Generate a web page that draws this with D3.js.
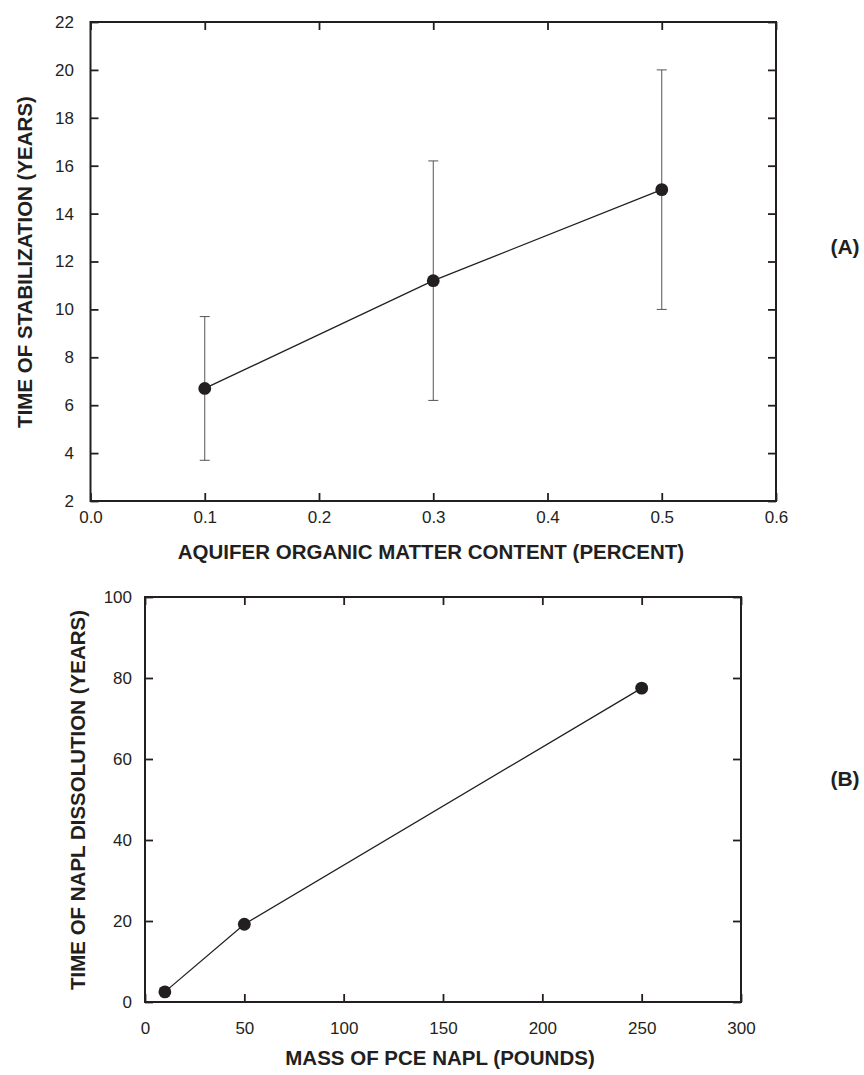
<!DOCTYPE html>
<html>
<head>
<meta charset="utf-8">
<script src="https://cdn.jsdelivr.net/npm/d3@7"></script>
<style>
  body { margin: 0; background: #fff; }
  text { font-family: "Liberation Sans", Arial, sans-serif; fill: #231f20; }
</style>
</head>
<body>
<div id="chart"></div>
<script>
// panel A data
const orgMatter = [0.1, 0.3, 0.5];
const stabTime = [6.7, 11.2, 15.0];
const stabLow = [3.7, 6.2, 10.0];
const stabHigh = [9.7, 16.2, 20.0];
const xTicksA = [0, 0.1, 0.2, 0.3, 0.4, 0.5, 0.6];
const yTicksA = [2, 4, 6, 8, 10, 12, 14, 16, 18, 20, 22];

// panel B data
const napMass = [10, 50, 250];
const dissTime = [2.5, 19.2, 77.5];
const xTicksB = [0, 50, 100, 150, 200, 250, 300];
const yTicksB = [0, 20, 40, 60, 80, 100];

const W = 864, H = 1075;
const ink = "#231f20";

const svg = d3.select("#chart").append("svg")
  .attr("width", W).attr("height", H);

function panel(opt) {
  const x = d3.scaleLinear().domain(opt.xDom).range([opt.left, opt.right]);
  const y = d3.scaleLinear().domain(opt.yDom).range([opt.bottom, opt.top]);
  const g = svg.append("g");
  const tl = 8;

  // ticks point inward, on all four sides
  g.append("g").attr("transform", `translate(0,${opt.bottom})`)
    .call(d3.axisBottom(x).tickValues(opt.xTicks).tickSize(-tl).tickPadding(opt.xPad).tickFormat(opt.xFmt))
    .call(a => a.select(".domain").remove());
  g.append("g").attr("transform", `translate(0,${opt.top})`)
    .call(d3.axisTop(x).tickValues(opt.xTicks).tickSize(-tl).tickFormat(""))
    .call(a => a.select(".domain").remove());
  g.append("g").attr("transform", `translate(${opt.left},0)`)
    .call(d3.axisLeft(y).tickValues(opt.yTicks).tickSize(-tl).tickPadding(opt.yPad).tickFormat(d3.format("d")))
    .call(a => a.select(".domain").remove());
  g.append("g").attr("transform", `translate(${opt.right},0)`)
    .call(d3.axisRight(y).tickValues(opt.yTicks).tickSize(-tl).tickFormat(""))
    .call(a => a.select(".domain").remove());

  g.selectAll(".tick line").attr("stroke", ink).attr("stroke-width", 1.8);
  g.selectAll(".tick text").attr("font-size", 17).attr("fill", ink)
    .style("font-family", "Liberation Sans, Arial, sans-serif");

  g.append("rect")
    .attr("x", opt.left).attr("y", opt.top)
    .attr("width", opt.right - opt.left).attr("height", opt.bottom - opt.top)
    .attr("fill", "none").attr("stroke", ink).attr("stroke-width", 2);

  const pts = opt.xs.map((d, i) => ({x: d, y: opt.ys[i], lo: opt.lo ? opt.lo[i] : null, hi: opt.hi ? opt.hi[i] : null}));

  // error bars (panel A only)
  if (opt.lo) {
    const eb = g.append("g").attr("stroke", "#555").attr("stroke-width", 1);
    pts.forEach(p => {
      eb.append("line").attr("x1", x(p.x)).attr("x2", x(p.x)).attr("y1", y(p.lo)).attr("y2", y(p.hi));
      eb.append("line").attr("x1", x(p.x) - 5).attr("x2", x(p.x) + 5).attr("y1", y(p.lo)).attr("y2", y(p.lo));
      eb.append("line").attr("x1", x(p.x) - 5).attr("x2", x(p.x) + 5).attr("y1", y(p.hi)).attr("y2", y(p.hi));
    });
  }

  g.append("path").datum(pts)
    .attr("d", d3.line().x(d => x(d.x)).y(d => y(d.y)))
    .attr("fill", "none").attr("stroke", ink).attr("stroke-width", 1.3);

  g.selectAll("circle.pt").data(pts).enter().append("circle")
    .attr("cx", d => x(d.x)).attr("cy", d => y(d.y)).attr("r", 6.4)
    .attr("fill", ink);

  g.append("text")
    .attr("x", opt.xTitleX).attr("y", opt.xTitleY)
    .attr("text-anchor", "middle").attr("font-size", 20.5).attr("font-weight", "bold")
    .text(opt.xTitle);
  g.append("text")
    .attr("transform", `translate(${opt.yTitleX},${opt.yTitleY}) rotate(-90)`)
    .attr("text-anchor", "middle").attr("font-size", 20.5).attr("font-weight", "bold")
    .text(opt.yTitle);
  g.append("text")
    .attr("x", opt.tagX).attr("y", opt.tagY)
    .attr("text-anchor", "middle").attr("font-size", 21).attr("font-weight", "bold")
    .text(opt.tag);
}

panel({
  xs: orgMatter, ys: stabTime, lo: stabLow, hi: stabHigh,
  xDom: [0, 0.6], yDom: [2, 22], xTicks: xTicksA, yTicks: yTicksA,
  xFmt: d3.format(".1f"), xPad: 10, yPad: 16.5,
  left: 90.5, right: 776, top: 22, bottom: 501,
  xTitle: "AQUIFER ORGANIC MATTER CONTENT (PERCENT)", xTitleX: 431, xTitleY: 559,
  yTitle: "TIME OF STABILIZATION (YEARS)", yTitleX: 32, yTitleY: 262,
  tag: "(A)", tagX: 845, tagY: 254
});

panel({
  xs: napMass, ys: dissTime,
  xDom: [0, 300], yDom: [0, 100], xTicks: xTicksB, yTicks: yTicksB,
  xFmt: d3.format("d"), xPad: 20, yPad: 13,
  left: 145, right: 741, top: 597, bottom: 1002,
  xTitle: "MASS OF PCE NAPL (POUNDS)", xTitleX: 440, xTitleY: 1065,
  yTitle: "TIME OF NAPL DISSOLUTION (YEARS)", yTitleX: 85, yTitleY: 800,
  tag: "(B)", tagX: 845, tagY: 786
});
</script>
</body>
</html>
